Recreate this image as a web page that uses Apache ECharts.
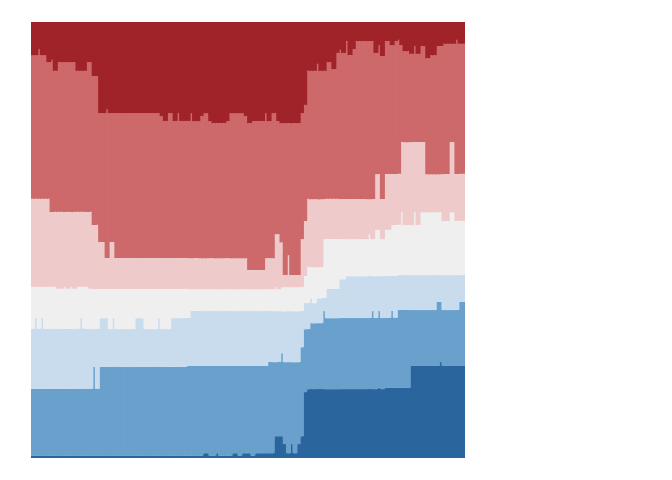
<!DOCTYPE html>
<html>
<head>
<meta charset="utf-8">
<script src="https://cdn.jsdelivr.net/npm/echarts@6/dist/echarts.min.js"></script>
<style>html,body{margin:0;padding:0;background:#fff;}#c{width:672px;height:480px;}</style>
</head>
<body>
<div id="c"></div>
<script>
// Shares (percent) per column, bottom to top
const darkBlue = [
0.5,0.5,0.5,0.5,0.5,0.5,0.5,0.5,0.5,0.5,
0.5,0.5,0.5,0.5,0.5,0.5,0.5,0.5,0.5,0.5,
0.5,0.5,0.5,0.5,0.5,0.5,0.5,0.5,0.5,0.5,
0.5,0.5,0.5,0.5,0.5,0.5,0.5,0.5,0.5,0.5,
0.5,0.5,0.5,0.5,0.5,0.5,0.5,0.5,0.5,0.5,
0.5,0.5,0.5,1.1,1.1,0.5,0.5,1.1,0.5,0.5,
0.5,0.5,1.1,1.1,0.5,1.1,1.1,1.1,0.5,1.1,
1.1,1.1,1.1,1.1,1.1,5.0,5.0,5.0,3.2,1.1,
3.2,1.1,3.2,5.0,15.1,15.8,15.8,15.8,15.8,15.8,
15.8,15.8,15.8,15.8,15.8,15.8,15.8,15.8,15.8,15.8,
15.8,15.8,15.8,15.8,15.8,15.8,15.8,16.1,15.8,16.1,
16.1,16.1,16.1,16.1,16.1,16.1,16.1,21.1,21.1,21.1,
21.1,21.1,21.1,21.1,21.1,21.1,22.0,21.1,21.1,21.1,
21.1,21.1,21.1,21.1];
const medBlue = [
15.4,15.4,15.4,15.4,15.4,15.4,15.4,15.4,15.4,15.4,
15.4,15.4,15.4,15.4,15.4,15.4,15.4,15.4,15.4,20.4,
15.4,20.4,20.4,20.4,20.4,20.4,20.4,20.4,20.4,20.4,
20.4,20.4,20.4,20.4,20.4,20.4,20.4,20.4,20.4,20.4,
20.4,20.4,20.4,20.4,20.4,20.4,20.4,20.4,20.6,20.6,
20.6,20.6,20.6,20.0,20.0,20.6,20.6,20.0,20.6,20.6,
20.6,20.6,20.0,20.0,20.6,20.0,20.0,20.0,20.6,20.0,
20.0,20.0,20.0,20.9,20.9,17.0,17.0,19.0,18.8,20.9,
18.8,20.9,18.8,20.4,14.4,13.8,15.1,15.1,15.1,15.1,
17.9,16.3,16.3,16.3,16.3,16.3,16.3,16.3,16.3,16.3,
16.3,16.3,16.3,16.3,16.3,17.9,16.3,17.7,16.3,16.1,
16.1,17.7,16.1,17.9,17.9,17.9,17.9,12.8,12.8,12.8,
12.8,12.8,12.8,12.8,12.8,14.7,13.8,12.8,12.8,12.8,
12.8,12.8,14.7,14.7];
const lightBlue = [
13.8,16.3,13.8,16.3,13.8,13.8,13.8,13.8,13.8,13.8,
13.8,13.8,13.8,13.8,13.8,16.3,13.8,13.8,13.8,8.7,
13.8,11.2,11.2,11.2,8.7,11.2,8.7,8.7,8.7,8.7,
8.7,8.7,11.2,11.2,11.2,8.7,8.7,8.7,8.7,11.2,
8.7,8.7,8.7,11.2,11.2,11.2,11.2,11.2,11.0,12.6,
12.6,12.6,12.6,12.6,12.6,12.6,12.6,12.6,12.6,12.6,
12.6,12.6,12.6,12.6,12.6,12.6,12.6,12.6,12.6,12.6,
12.6,12.6,12.6,11.7,11.7,11.7,11.7,9.6,11.7,11.7,
11.7,11.7,11.7,8.3,6.0,6.0,5.7,4.6,5.7,5.7,
3.0,6.7,6.7,6.7,6.7,8.9,8.9,9.6,9.6,9.6,
9.6,9.6,9.6,9.6,9.6,8.0,9.6,8.0,9.6,9.6,
9.6,8.0,9.6,8.0,8.0,8.0,8.0,8.0,8.0,8.0,
8.0,8.0,8.0,8.0,8.0,6.2,6.2,8.0,8.0,8.0,
8.0,8.0,6.2,6.2];
const gray = [
9.6,7.1,9.6,7.1,9.6,9.6,9.6,9.6,9.2,9.2,
9.6,9.2,9.6,9.2,9.6,7.1,9.6,9.6,9.2,9.2,
9.2,6.7,6.7,6.7,9.2,6.7,9.2,9.2,9.2,9.2,
9.2,9.2,6.7,6.7,6.7,9.2,9.2,9.2,9.2,6.7,
9.2,9.2,9.2,6.7,6.7,6.7,6.7,6.7,6.7,5.0,
5.0,5.0,5.0,5.0,5.0,5.0,5.0,5.0,5.0,5.0,
5.0,5.0,5.0,5.0,5.0,5.0,5.0,5.0,5.0,5.0,
5.0,5.0,5.0,5.0,5.0,5.5,5.0,5.5,5.5,5.5,
5.5,5.5,5.5,5.5,6.2,8.3,7.1,8.3,7.1,7.1,
13.5,11.5,11.5,11.5,11.5,9.2,9.2,8.5,8.5,8.5,
8.5,8.5,8.5,8.5,9.6,8.5,10.6,10.6,8.5,10.6,
10.6,11.7,11.7,11.5,14.4,11.5,11.5,11.5,14.4,11.5,
14.4,14.4,14.4,14.4,14.4,14.4,14.4,12.4,12.4,14.4,
14.4,12.4,12.4,12.4];
const pink = [
20.2,20.2,20.2,20.2,20.2,20.2,17.2,17.2,17.7,17.7,
17.2,17.7,17.2,17.7,17.2,17.2,17.2,17.2,17.7,14.7,
14.7,10.8,10.8,7.1,10.8,10.8,7.1,7.1,7.1,7.1,
7.1,7.1,7.1,7.1,7.1,7.1,7.1,7.1,7.1,7.1,
7.1,7.1,7.1,7.1,7.1,7.1,7.1,7.1,7.1,7.1,
7.1,7.1,7.1,7.1,7.1,7.1,7.1,7.1,7.1,7.1,
7.1,7.1,7.1,7.1,7.1,7.1,7.1,4.4,4.4,4.4,
4.4,4.4,7.1,7.1,7.1,12.2,12.6,10.3,2.8,7.3,
2.8,2.8,2.8,11.0,12.6,15.6,15.6,15.6,15.6,15.6,
9.2,9.2,9.2,9.2,9.2,9.2,9.2,9.2,9.2,9.2,
9.2,9.2,9.2,9.2,8.0,9.2,12.8,12.8,9.2,12.8,
12.8,11.7,11.7,11.7,16.1,19.0,19.0,19.0,16.1,19.0,
16.1,16.1,8.7,8.7,8.7,8.7,8.7,10.8,10.8,16.1,
16.1,10.8,10.8,10.8];
const medRed = [
33.0,33.0,34.4,33.0,33.0,31.4,34.9,32.3,34.4,34.4,
34.4,34.4,34.4,34.4,32.3,32.3,32.3,34.4,34.4,34.2,
34.2,29.6,29.6,34.2,29.6,29.6,33.3,33.3,33.3,33.3,
33.3,33.3,33.3,33.3,33.3,33.3,33.3,33.3,33.3,33.3,
32.6,31.4,33.3,33.3,31.4,33.3,31.4,31.4,31.4,33.3,
31.4,31.4,32.6,33.3,33.3,31.4,31.0,31.0,31.0,31.0,
31.4,33.3,33.3,33.3,33.3,33.3,32.6,33.7,34.2,34.2,
34.2,34.2,33.3,31.4,33.3,27.8,25.9,27.3,34.9,30.3,
34.9,34.9,34.9,28.9,26.6,29.4,29.4,29.4,31.0,29.4,
29.4,31.4,31.4,29.8,33.5,34.2,33.5,36.2,33.0,34.4,
36.2,36.2,36.2,36.2,36.2,36.2,27.8,29.6,32.8,30.5,
30.5,29.6,30.5,30.7,22.2,20.9,20.9,20.2,22.0,20.2,
22.0,22.0,26.6,27.3,27.3,29.4,29.4,29.8,29.8,22.5,
22.5,30.7,29.8,29.8];
const darkRed = [
7.6,7.6,6.2,7.6,7.6,9.2,8.7,11.2,9.2,9.2,
9.2,9.2,9.2,9.2,11.2,11.2,11.2,9.2,9.2,12.4,
12.4,20.9,20.9,20.0,20.9,20.9,20.9,20.9,20.9,20.9,
20.9,20.9,20.9,20.9,20.9,20.9,20.9,20.9,20.9,20.9,
21.6,22.7,20.9,20.9,22.7,20.9,22.7,22.7,22.7,20.9,
22.7,22.7,21.6,20.9,20.9,22.7,23.2,23.2,23.2,23.2,
22.7,20.9,20.9,20.9,20.9,20.9,21.6,23.2,22.7,22.7,
22.7,22.7,20.9,22.7,20.9,20.9,22.7,23.2,23.2,23.2,
23.2,23.2,23.2,20.9,19.0,11.2,11.2,11.2,9.6,11.2,
11.2,9.2,9.2,10.8,7.1,6.4,7.1,4.4,7.6,6.2,
4.4,4.4,4.4,4.4,4.4,4.4,7.1,5.3,7.8,4.4,
4.4,5.3,4.4,4.1,5.3,6.7,6.7,7.3,5.5,7.3,
5.5,5.5,8.3,7.6,7.6,5.5,5.5,5.0,5.0,5.0,
5.0,4.1,5.0,5.0];

const seriesData = [darkBlue, medBlue, lightBlue, gray, pink, medRed, darkRed];
const seriesNames = ['Strongly disagree','Disagree','Slightly disagree','Neutral','Slightly agree','Agree','Strongly agree'];
const colors = ['#2a659d','#69a0cc','#c8dcee','#efefef','#eecaca','#cd696a','#9f2329'];
const categories = darkBlue.map((_, i) => String(i + 1));

// normalise each column to 100%
const totals = categories.map((_, i) => seriesData.reduce((s, arr) => s + arr[i], 0));

const chart = echarts.init(document.getElementById('c'), null, {renderer: 'canvas'});
chart.setOption({
  animation: false,
  grid: {left: 31, right: 207, top: 22, bottom: 22},
  xAxis: {type: 'category', data: categories, show: false, boundaryGap: true},
  yAxis: {type: 'value', min: 0, max: 100, show: false},
  series: seriesData.map((arr, k) => ({
    name: seriesNames[k],
    type: 'bar',
    stack: 'total',
    barWidth: 5,
    clip: true,
    itemStyle: {color: colors[k]},
    emphasis: {disabled: true},
    data: arr.map((v, i) => v / totals[i] * 100)
  }))
});
</script>
</body>
</html>
